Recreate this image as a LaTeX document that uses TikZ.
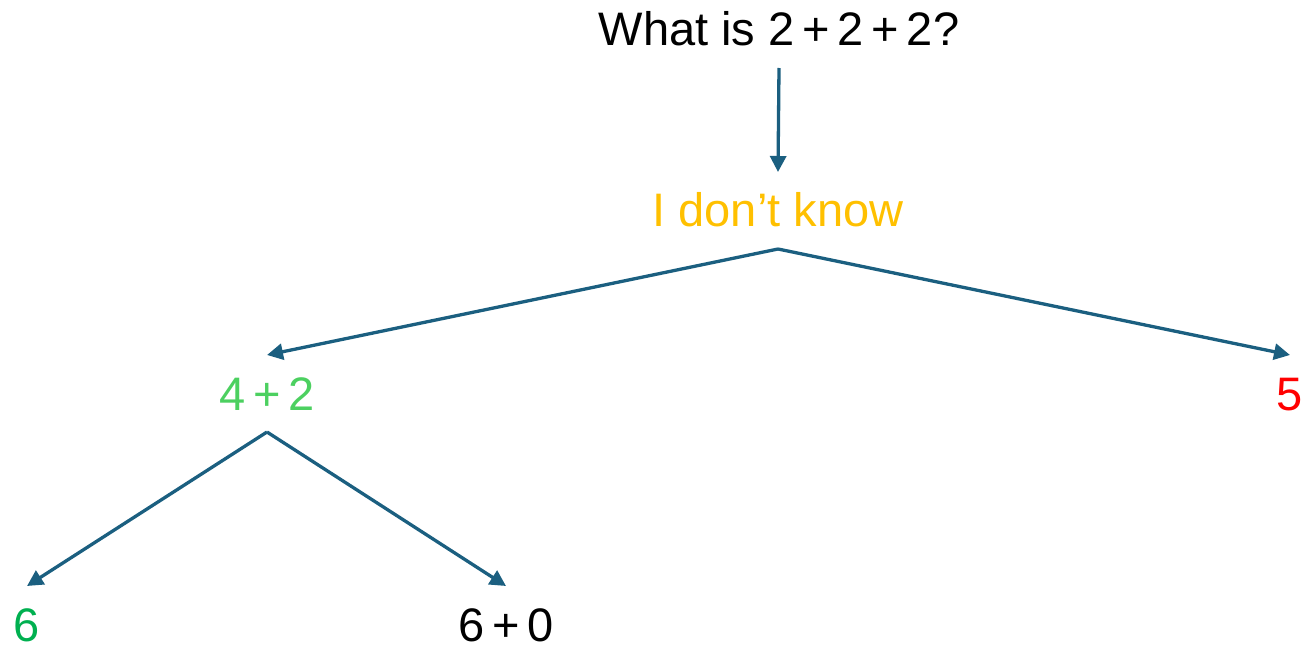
\documentclass[tikz,border=0pt]{standalone}
\usepackage{fontspec}
\setmainfont{Liberation Sans}
\usetikzlibrary{arrows.meta}
\definecolor{arrowblue}{RGB}{27,95,128}
\definecolor{idkorange}{RGB}{255,192,0}
\definecolor{lightgreen}{RGB}{76,208,96}
\definecolor{darkgreen}{RGB}{0,176,80}
\begin{document}
\begin{tikzpicture}[x=1pt,y=-1pt,
  lbl/.style={anchor=base,inner sep=0pt,outer xsep=0pt,outer ysep=22pt,
    text height=33pt,text depth=0pt,font=\fontsize{47}{52}\selectfont},
  conn/.style={draw=arrowblue,line width=3.3pt,-{Triangle[length=16pt,width=16pt]}}]
\useasboundingbox (0,0) rectangle (1304,647);
\node[lbl] (q) at (779,46) {What is 2\,+\,2\,+\,2?};
\node[lbl,text=idkorange] (idk) at (778,227) {I don’t know};
\node[lbl,text=lightgreen] (a42) at (267,410) {4\,+\,2};
\node[lbl,text=red] (a5) at (1290,410) {5};
\node[lbl,text=darkgreen] (a6) at (27,641) {6};
\node[lbl] (a60) at (506,641) {6\,+\,0};
\draw[conn] (q.south) -- (idk.north);
\draw[conn] (idk.south) -- (a42.north);
\draw[conn] (idk.south) -- (a5.north);
\draw[conn] (a42.south) -- (a6.north);
\draw[conn] (a42.south) -- (a60.north);
\end{tikzpicture}
\end{document}
